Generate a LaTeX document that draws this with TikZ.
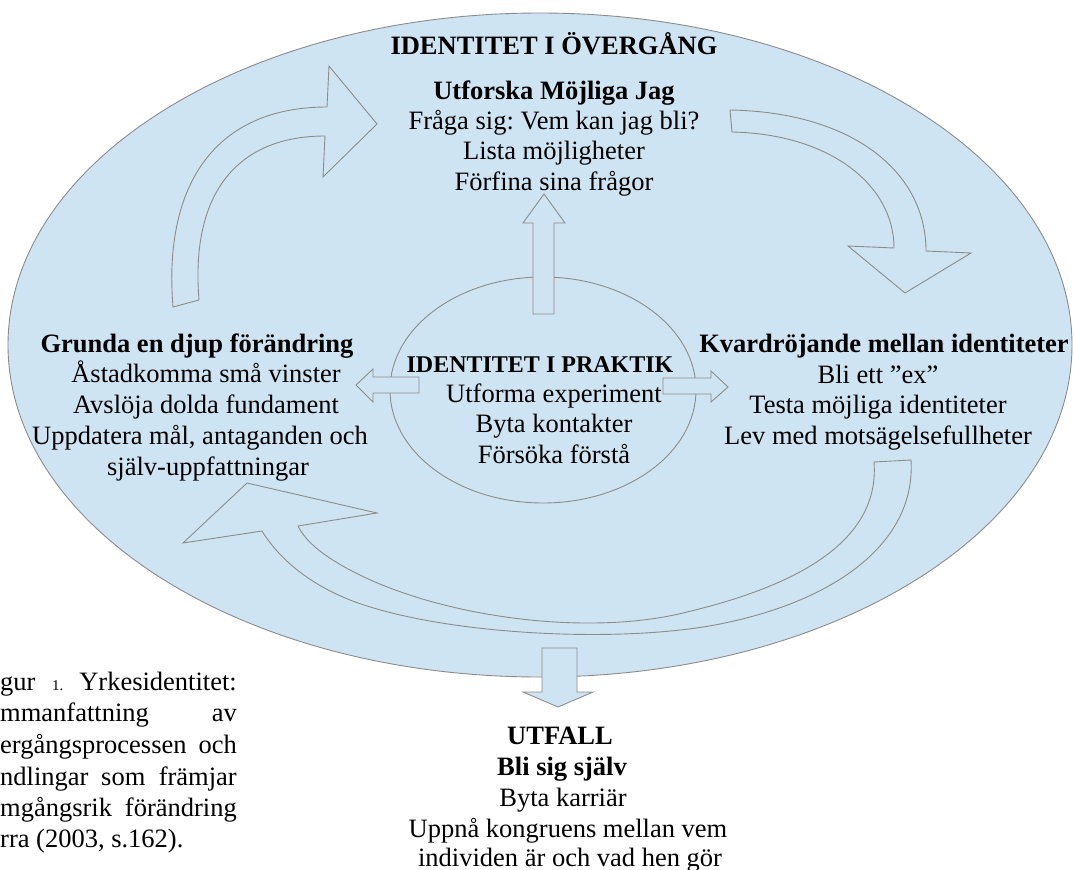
\documentclass[tikz,border=0pt]{standalone}
\usepackage{fontspec}
\setmainfont{Liberation Serif}
\frenchspacing
\definecolor{edgegray}{RGB}{140,140,140}
\definecolor{fillblue}{RGB}{207,228,242}
\begin{document}
\begin{tikzpicture}[x=1pt,y=-1pt,
  blk/.style={draw=edgegray,fill=fillblue,line width=0.9pt,line join=miter},
  txt/.style={anchor=base,inner sep=0pt,font=\fontsize{26.5}{30}\selectfont},
  btxt/.style={txt,font=\fontsize{26.5}{30}\selectfont\bfseries}]
\useasboundingbox (0,0) rectangle (1074,870);
% outer ellipse
\draw[blk] (540,345) ellipse [x radius=532, y radius=332];
% curved arrows
\draw[blk] (173,307) .. controls (163,185) and (215,107) .. (327,107) -- (329,66) -- (377,124) -- (323,177) -- (325,136) .. controls (240,136) and (190,190) .. (199,300) -- cycle;
\draw[blk] (730,110) .. controls (850,112) and (926,170) .. (926,251) -- (971,253) -- (905,293) -- (848,246) -- (894,248) .. controls (894,185) and (830,134) .. (732,132) -- cycle;
\draw[blk] (911,460) .. controls (916,540) and (840,600) .. (720,624) .. controls (620,644) and (440,635) .. (350,600) .. controls (310,584) and (280,560) .. (262,531) -- (183,543) -- (247,483) -- (377,513) -- (298,526) .. controls (305,540) and (320,554) .. (350,570) .. controls (440,618) and (590,637) .. (687,612) .. controls (800,585) and (880,540) .. (874,462) -- cycle;
% inner ellipse
\draw[blk] (543,390) ellipse [x radius=153, y radius=113];
% straight block arrows
\draw[blk] (533,314) -- (533,223) -- (523,223) -- (544,194) -- (565,223) -- (554,223) -- (554,314) -- cycle;
\draw[blk] (419,377) -- (373,377) -- (373,369) -- (356,385) -- (373,402) -- (373,393) -- (419,393) -- cycle;
\draw[blk] (663,378) -- (711,378) -- (711,371) -- (728,387) -- (711,402) -- (711,394) -- (663,394) -- cycle;
\draw[blk] (542,648) -- (577,648) -- (577,692) -- (593,692) -- (558,707) -- (523,692) -- (542,692) -- cycle;
% top group
\node[btxt] (t0) at (554,54) {IDENTITET I ÖVERGÅNG};
\node[btxt] (t1) at (554,99) {Utforska Möjliga Jag};
\node[txt] (t2) at (554,129) {Fråga sig: Vem kan jag bli?};
\node[txt] (t3) at (554,159) {Lista möjligheter};
\node[txt] (t4) at (554,190) {Förfina sina frågor};
% left group
\node[btxt] (l1) at (197,352) {Grunda en djup förändring};
\node[txt] (l2) at (206,382) {Åstadkomma små vinster};
\node[txt] (l3) at (206,413) {Avslöja dolda fundament};
\node[txt] (l4) at (200,444) {Uppdatera mål, antaganden och};
\node[txt] (l5) at (208,475) {själv-uppfattningar};
% center group
\node[txt,font=\fontsize{24}{28}\selectfont\bfseries] (c1) at (540,372) {IDENTITET I PRAKTIK};
\node[txt] (c2) at (554,402) {Utforma experiment};
\node[txt] (c3) at (554,432) {Byta kontakter};
\node[txt] (c4) at (554,463) {Försöka förstå};
% right group
\node[btxt] (r1) at (884,352) {Kvardröjande mellan identiteter};
\node[txt] (r2) at (878,383) {Bli ett ”ex”};
\node[txt] (r3) at (878,413) {Testa möjliga identiteter};
\node[txt] (r4) at (878,444) {Lev med motsägelsefullheter};
% bottom group
\node[btxt] (u1) at (560,744) {UTFALL};
\node[btxt] (u2) at (562,775) {Bli sig själv};
\node[txt] (u3) at (563,806) {Byta karriär};
\node[txt] (u4) at (568,837) {Uppnå kongruens mellan vem};
\node[txt] (u5) at (570,866) {individen är och vad hen gör};
% caption
\node[txt,anchor=base west] (f1a) at (0,690) {gur};
\node[txt,anchor=base west,font=\fontsize{15}{18}\selectfont] (f1b) at (52,690) {1.};
\node[txt,anchor=base east] (f1c) at (237,690) {Yrkesidentitet:};
\node[txt,anchor=base west] (f2a) at (0,721) {mmanfattning};
\node[txt,anchor=base east] (f2b) at (237,721) {av};
\node[txt,anchor=base west] (f3a) at (0,753) {ergångsprocessen};
\node[txt,anchor=base east] (f3b) at (237,753) {och};
\node[txt,anchor=base west] (f4a) at (0,785) {ndlingar};
\node[txt,anchor=base west] (f4b) at (101,785) {som};
\node[txt,anchor=base east] (f4c) at (237,785) {främjar};
\node[txt,anchor=base west] (f5a) at (0,816) {mgångsrik};
\node[txt,anchor=base east] (f5b) at (237,816) {förändring};
\node[txt,anchor=base west] (f6a) at (0,847) {rra (2003, s.162).};
\end{tikzpicture}
\end{document}
